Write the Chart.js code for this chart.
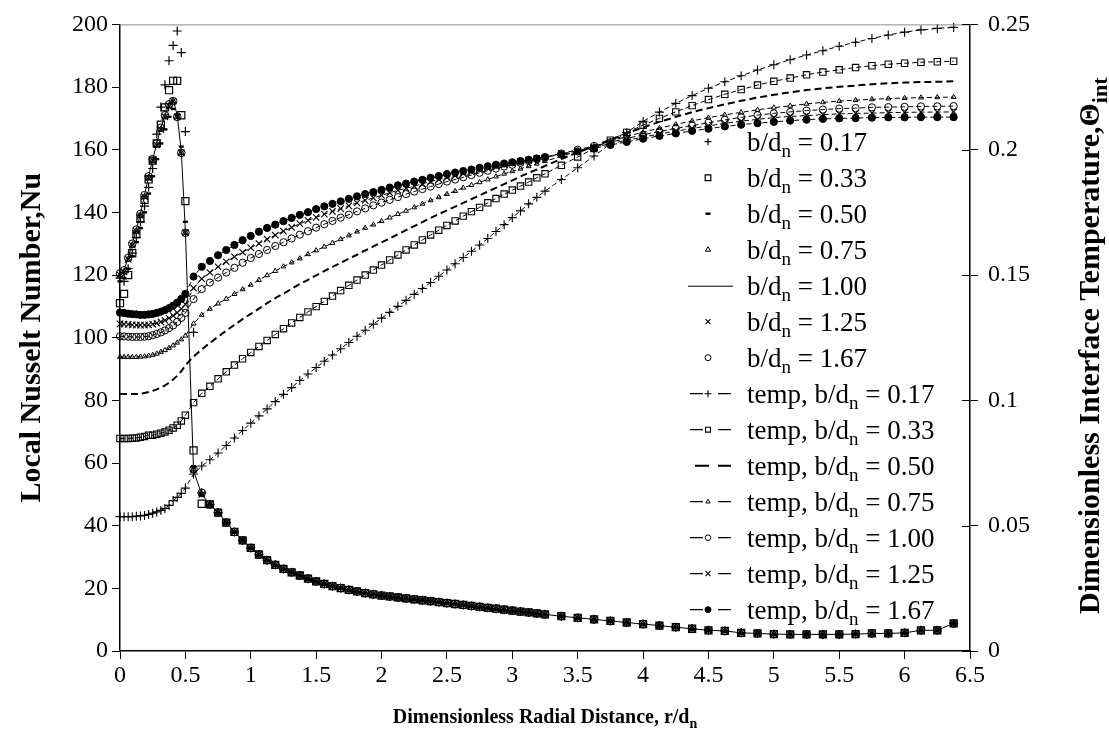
<!DOCTYPE html>
<html>
<head>
<meta charset="utf-8">
<script src="https://cdn.jsdelivr.net/npm/chart.js@4.4.1/dist/chart.umd.min.js"></script>
<style>
html,body{margin:0;padding:0;background:#fff;overflow:hidden}
#box{position:relative;width:1109px;height:746px}
</style>
</head>
<body>
<div id="box"><canvas id="chart" width="1109" height="746"></canvas></div>
<script>
// Radial stations r/dn shared by every series
const radial = [0,0.03125,0.0625,0.09375,0.125,0.15625,0.1875,0.21875,0.25,0.28125,0.3125,0.34375,0.375,0.40625,0.4375,0.46875,0.5,
  0.5625,0.625,0.6875,0.75,0.8125,0.875,0.9375,1,1.0625,1.125,1.1875,1.25,1.3125,1.375,1.4375,1.5,1.5625,1.625,1.6875,1.75,1.8125,1.875,1.9375,2,
  2.0625,2.125,2.1875,2.25,2.3125,2.375,2.4375,2.5,2.5625,2.625,2.6875,2.75,2.8125,2.875,2.9375,3,3.0625,3.125,3.1875,3.25,
  3.375,3.5,3.625,3.75,3.875,4,4.125,4.25,4.375,4.5,4.625,4.75,4.875,5,5.125,5.25,5.375,5.5,5.625,5.75,5.875,6,6.125,6.25,6.375];

// Local Nusselt number: stagnation region (r/dn <= 0.625) for each b/dn
const nuHead017 = [119,118,122,127,132,137,142,148,154,165,173.6,180.7,188.4,193.3,197.9,191,165.8,101.7,50.5];
const nuHead033 = [111,114,120,127,133,138,144,150.5,156.5,162,168,173.5,179,182,182,171,143.6,64,47];
const nuHead050 = [118,119,122,126,130.5,135,140,146,151.5,157,162,166.5,170.5,173,171,161,137,59,50];
const nuHead075 = [120,121,125,129.5,134,139,145,151,156.5,161.5,166.5,170.5,174,175.5,170.5,159,133.5,58,50];
const nuHead100 = [120.5,121.5,125.5,130,134.5,139.5,145.5,151.5,157,162,167,171,174.5,176,171,159.5,134,57.5,50];
const nuHead125 = [120,121,125,129.5,134,139,145,151,156.5,161.5,166.5,170.5,174,175.5,170.5,159,133.5,58,50];
const nuHead167 = [120.5,121.5,125.5,130,134.5,139.5,145.5,151.5,157,162,167,171,174.5,175.5,170.5,159,133.5,58,50.5];
// Local Nusselt number beyond r/dn = 0.625 (common to all b/dn)
const nuTail = [46.8,44.2,41.0,38.0,35.3,32.9,30.8,29.0,27.5,26.2,25.1,24.1,23.1,22.2,21.4,20.7,20.1,19.5,19.0,18.5,18.1,17.7,
  17.4,17.1,16.8,16.5,16.2,15.9,15.6,15.3,15.0,14.7,14.4,14.1,13.8,13.5,13.2,12.9,12.6,12.3,12.0,11.7,
  11.1,10.6,10.1,9.6,9.1,8.6,8.1,7.6,7.1,6.6,6.4,5.8,5.6,5.4,5.3,5.3,5.3,5.3,5.4,5.6,5.6,5.8,6.6,6.6,8.8];

// Dimensionless interface temperature for each b/dn
const tempB017 = [0.0536,0.0536,0.0536,0.0536,0.0538,0.0539,0.0541,0.0545,0.0550,0.0555,0.0561,0.0569,0.0581,0.0600,0.0613,0.0629,0.0650,0.0706,0.0738,0.0763,0.0790,0.0820,0.0850,0.0880,0.0909,0.0938,0.0966,0.0995,0.1024,0.1051,0.1079,0.1105,0.1131,0.1156,0.1181,0.1206,0.1231,0.1256,0.1280,0.1304,0.1328,0.1351,0.1375,0.1399,0.1423,0.1446,0.1470,0.1495,0.1520,0.1545,0.1570,0.1595,0.1620,0.1646,0.1674,0.1701,0.1729,0.1756,0.1784,0.1810,0.1835,0.1881,0.1928,0.1975,0.2023,0.2069,0.2113,0.2150,0.2185,0.2216,0.2245,0.2271,0.2295,0.2318,0.2339,0.2359,0.2378,0.2395,0.2413,0.2429,0.2444,0.2458,0.2469,0.2478,0.2484,0.2488];
const tempB033 = [0.0848,0.0848,0.0848,0.0849,0.0850,0.0853,0.0856,0.0861,0.0861,0.0865,0.0869,0.0874,0.0881,0.0890,0.0901,0.0918,0.0941,0.0991,0.1028,0.1056,0.1086,0.1114,0.1141,0.1166,0.1191,0.1215,0.1239,0.1263,0.1286,0.1309,0.1331,0.1353,0.1374,0.1395,0.1416,0.1438,0.1459,0.1480,0.1500,0.1520,0.1540,0.1560,0.1580,0.1600,0.1620,0.1640,0.1660,0.1679,0.1698,0.1716,0.1735,0.1753,0.1770,0.1788,0.1805,0.1823,0.1839,0.1855,0.1871,0.1888,0.1904,0.1938,0.1971,0.2005,0.2038,0.2069,0.2098,0.2125,0.2151,0.2176,0.2200,0.2221,0.2240,0.2258,0.2273,0.2286,0.2299,0.2310,0.2319,0.2328,0.2335,0.2341,0.2345,0.2349,0.2351,0.2353];
const tempB050 = [0.1025,0.1025,0.1025,0.1025,0.1025,0.1026,0.1029,0.1033,0.1038,0.1044,0.1051,0.1060,0.1070,0.1083,0.1098,0.1116,0.1140,0.1175,0.1203,0.1229,0.1254,0.1278,0.1301,0.1324,0.1345,0.1366,0.1388,0.1408,0.1426,0.1445,0.1464,0.1481,0.1499,0.1516,0.1533,0.1549,0.1565,0.1581,0.1598,0.1614,0.1630,0.1646,0.1663,0.1679,0.1695,0.1711,0.1728,0.1743,0.1758,0.1773,0.1788,0.1803,0.1818,0.1833,0.1848,0.1863,0.1878,0.1893,0.1908,0.1921,0.1935,0.1963,0.1989,0.2015,0.2040,0.2065,0.2089,0.2111,0.2131,0.2150,0.2166,0.2181,0.2195,0.2208,0.2219,0.2229,0.2238,0.2245,0.2251,0.2256,0.2261,0.2265,0.2268,0.2270,0.2271,0.2273];
const tempB075 = [0.1173,0.1173,0.1173,0.1173,0.1173,0.1174,0.1175,0.1178,0.1181,0.1186,0.1193,0.1200,0.1209,0.1219,0.1230,0.1243,0.1258,0.1306,0.1341,0.1365,0.1386,0.1405,0.1424,0.1443,0.1461,0.1480,0.1499,0.1516,0.1534,0.1550,0.1566,0.1583,0.1598,0.1613,0.1628,0.1643,0.1658,0.1673,0.1688,0.1701,0.1715,0.1729,0.1743,0.1756,0.1770,0.1784,0.1798,0.1810,0.1823,0.1835,0.1848,0.1859,0.1870,0.1881,0.1893,0.1904,0.1914,0.1924,0.1934,0.1944,0.1954,0.1974,0.1994,0.2014,0.2034,0.2053,0.2070,0.2086,0.2101,0.2115,0.2128,0.2139,0.2149,0.2159,0.2168,0.2175,0.2183,0.2189,0.2194,0.2198,0.2201,0.2204,0.2206,0.2208,0.2209,0.2210];
const tempB100 = [0.1256,0.1255,0.1254,0.1253,0.1253,0.1253,0.1254,0.1256,0.1260,0.1265,0.1271,0.1279,0.1288,0.1299,0.1313,0.1329,0.1349,0.1404,0.1444,0.1470,0.1490,0.1510,0.1529,0.1549,0.1568,0.1584,0.1600,0.1616,0.1631,0.1646,0.1661,0.1675,0.1689,0.1703,0.1716,0.1729,0.1741,0.1754,0.1766,0.1778,0.1789,0.1800,0.1811,0.1823,0.1833,0.1843,0.1853,0.1863,0.1873,0.1881,0.1890,0.1899,0.1908,0.1916,0.1925,0.1933,0.1940,0.1948,0.1955,0.1963,0.1970,0.1985,0.2000,0.2015,0.2030,0.2045,0.2059,0.2073,0.2085,0.2096,0.2108,0.2119,0.2129,0.2138,0.2145,0.2151,0.2156,0.2160,0.2164,0.2166,0.2169,0.2170,0.2171,0.2173,0.2173,0.2174];
const tempB125 = [0.1305,0.1304,0.1303,0.1301,0.1300,0.1300,0.1300,0.1301,0.1304,0.1308,0.1313,0.1319,0.1328,0.1338,0.1350,0.1365,0.1383,0.1448,0.1485,0.1510,0.1533,0.1553,0.1573,0.1591,0.1609,0.1626,0.1643,0.1659,0.1675,0.1690,0.1705,0.1718,0.1730,0.1743,0.1754,0.1765,0.1776,0.1788,0.1798,0.1808,0.1818,0.1828,0.1838,0.1846,0.1855,0.1864,0.1873,0.1881,0.1889,0.1896,0.1904,0.1911,0.1919,0.1926,0.1934,0.1940,0.1946,0.1953,0.1959,0.1965,0.1971,0.1984,0.1996,0.2010,0.2024,0.2038,0.2050,0.2063,0.2074,0.2085,0.2095,0.2105,0.2114,0.2121,0.2128,0.2133,0.2136,0.2140,0.2143,0.2145,0.2146,0.2148,0.2149,0.2150,0.2150,0.2151];
const tempB167 = [0.1350,0.1349,0.1346,0.1344,0.1343,0.1341,0.1341,0.1343,0.1345,0.1349,0.1354,0.1360,0.1368,0.1378,0.1390,0.1405,0.1425,0.1494,0.1533,0.1556,0.1579,0.1600,0.1620,0.1639,0.1656,0.1673,0.1688,0.1701,0.1715,0.1728,0.1740,0.1751,0.1763,0.1774,0.1784,0.1794,0.1804,0.1814,0.1823,0.1831,0.1840,0.1849,0.1858,0.1865,0.1873,0.1880,0.1888,0.1895,0.1903,0.1909,0.1915,0.1921,0.1928,0.1934,0.1940,0.1945,0.1950,0.1955,0.1960,0.1965,0.1970,0.1981,0.1993,0.2005,0.2019,0.2031,0.2044,0.2055,0.2065,0.2075,0.2084,0.2093,0.2100,0.2106,0.2111,0.2116,0.2120,0.2123,0.2125,0.2126,0.2128,0.2129,0.2129,0.2130,0.2130,0.2130];

const ratios = ['0.17','0.33','0.50','0.75','1.00','1.25','1.67'];

const SERIF = '"Liberation Serif", "Times New Roman", serif';
const TICK_PX = 24;
const LEGEND_PX = 27;
const XTITLE_PX = 20;
const YTITLE_PX = 30;

const pts = ys => radial.map((x, i) => ({ x, y: ys[i] }));
const nuPts = head => pts(head.concat(nuTail));

// marker appearance: [pointStyle, radius, borderWidth, filled, legendRadius]
const nuMarks = [
  ['cross', 4.5, 1.2, false, 3.5],
  ['rect', 5, 1.2, false, 4],
  ['line', 2.5, 2.4, false, 2.5],
  ['triangle', 3.5, 1, false, 3],
  [null, 0, 0, false, 0],
  ['crossRot', 4.5, 1.1, false, 3.5],
  ['circle', 3.8, 1, false, 3]
];
const tempMarks = [
  ['cross', 4.5, 1.1, false, 3.5],
  ['rect', 4.5, 1.1, false, 3.5],
  [null, 0, 0, false, 0],
  ['triangle', 2.8, 1, false, 2.5],
  ['circle', 3.6, 1, false, 2.8],
  ['crossRot', 4.5, 1.1, false, 3.5],
  ['circle', 3.6, 1, true, 3]
];

const nuHeads = [nuHead017, nuHead033, nuHead050, nuHead075, nuHead100, nuHead125, nuHead167];
const temps = [tempB017, tempB033, tempB050, tempB075, tempB100, tempB125, tempB167];

const datasets = [];
ratios.forEach((b, i) => {
  const [ps, r, bw, filled] = nuMarks[i];
  const isLine = ps === null;
  datasets.push({
    label: 'b/dn = ' + b, kind: 'nu', mark: nuMarks[i],
    data: nuPts(nuHeads[i]), yAxisID: 'y',
    showLine: isLine, borderColor: '#000', borderWidth: isLine ? 1 : 0,
    pointStyle: ps || 'circle', pointRadius: r, pointBorderWidth: bw,
    pointBorderColor: '#000', pointBackgroundColor: filled ? '#000' : 'rgba(0,0,0,0)',
    clip: false
  });
});
ratios.forEach((b, i) => {
  const [ps, r, bw, filled] = tempMarks[i];
  datasets.push({
    label: 'temp, b/dn = ' + b, kind: 'temp', mark: tempMarks[i],
    data: pts(temps[i]), yAxisID: 'y1',
    showLine: true, borderColor: '#000',
    borderWidth: ps === null ? 2 : 1, borderDash: ps === null ? [7, 4] : [5, 3],
    pointStyle: ps || 'circle', pointRadius: r, pointBorderWidth: bw,
    pointBorderColor: '#000', pointBackgroundColor: filled ? '#000' : 'rgba(0,0,0,0)',
    clip: false
  });
});

function drawMark(ctx, style, r, x, y, filled, bw) {
  if (!style || r <= 0) return;
  ctx.save();
  ctx.lineWidth = bw; ctx.strokeStyle = '#000'; ctx.fillStyle = '#000';
  ctx.setLineDash([]);
  ctx.beginPath();
  if (style === 'cross') { ctx.moveTo(x - r, y); ctx.lineTo(x + r, y); ctx.moveTo(x, y - r); ctx.lineTo(x, y + r); }
  else if (style === 'crossRot') { const d = r * Math.SQRT1_2; ctx.moveTo(x - d, y - d); ctx.lineTo(x + d, y + d); ctx.moveTo(x - d, y + d); ctx.lineTo(x + d, y - d); }
  else if (style === 'rect') { const s = r * Math.SQRT1_2; ctx.rect(x - s, y - s, 2 * s, 2 * s); }
  else if (style === 'line') { ctx.moveTo(x - r, y); ctx.lineTo(x + r, y); }
  else if (style === 'triangle') { ctx.moveTo(x, y - r); ctx.lineTo(x + r * 0.87, y + r * 0.5); ctx.lineTo(x - r * 0.87, y + r * 0.5); ctx.closePath(); }
  else if (style === 'circle') { ctx.arc(x, y, r, 0, Math.PI * 2); }
  if (filled) ctx.fill();
  ctx.stroke();
  ctx.restore();
}

// Text runs made of [text, subscript?] pieces
function runWidth(ctx, parts, size, bold) {
  let w = 0;
  for (const [t, sub] of parts) {
    ctx.font = (bold ? 'bold ' : '') + (sub ? Math.round(size * 0.72) : size) + 'px ' + SERIF;
    w += ctx.measureText(t).width;
  }
  return w;
}
function drawRun(ctx, parts, x, y, size, bold) {
  let cx = x;
  for (const [t, sub] of parts) {
    ctx.font = (bold ? 'bold ' : '') + (sub ? Math.round(size * 0.72) : size) + 'px ' + SERIF;
    ctx.fillText(t, cx, sub ? y + size * 0.25 : y);
    cx += ctx.measureText(t).width;
  }
}

const decor = {
  id: 'decor',
  afterDraw(chart) {
    const { ctx, chartArea: a, scales } = chart;
    ctx.save();
    // top frame
    ctx.strokeStyle = '#8a8a8a'; ctx.lineWidth = 1;
    ctx.beginPath(); ctx.moveTo(a.left, a.top + 0.5); ctx.lineTo(a.right, a.top + 0.5); ctx.stroke();
    // right-axis ticks cross the axis line
    ctx.strokeStyle = '#000'; ctx.lineWidth = 1;
    scales.y1.ticks.forEach(t => {
      const y = Math.round(scales.y1.getPixelForValue(t.value)) + 0.5;
      ctx.beginPath(); ctx.moveTo(a.right - 8, y); ctx.lineTo(a.right, y); ctx.stroke();
    });

    // legend
    ctx.fillStyle = '#000'; ctx.textBaseline = 'alphabetic'; ctx.textAlign = 'left';
    const mx = 708, tx = 747, top = 141.7, step = 36.0;
    chart.data.datasets.forEach((ds, i) => {
      const cy = top + step * i;
      const [ps, , bw, filled, lr] = ds.mark;
      ctx.save();
      ctx.strokeStyle = '#000';
      if (ds.kind === 'nu' && ps === null) {
        ctx.lineWidth = 1; ctx.beginPath(); ctx.moveTo(688, cy + 0.5); ctx.lineTo(733, cy + 0.5); ctx.stroke();
      }
      if (ds.kind === 'temp') {
        ctx.lineWidth = ps === null ? 2 : 1.3;
        ctx.beginPath();
        ctx.moveTo(ps === null ? 695 : 690, cy); ctx.lineTo(ps === null ? 709 : 703, cy);
        ctx.moveTo(718, cy); ctx.lineTo(731, cy);
        ctx.stroke();
      }
      ctx.restore();
      drawMark(ctx, ps, lr, mx, cy, filled, bw);
      const b = ds.label.split('= ')[1];
      const lead = ds.kind === 'temp' ? 'temp, b/d' : 'b/d';
      drawRun(ctx, [[lead, false], ['n', true], [' = ' + b, false]], tx, cy + 9, LEGEND_PX, false);
    });

    // axis titles
    const bottomParts = [['Dimensionless Radial Distance, r/d', false], ['n', true]];
    const bw2 = runWidth(ctx, bottomParts, XTITLE_PX, true);
    drawRun(ctx, bottomParts, (a.left + a.right) / 2 - bw2 / 2, 723, XTITLE_PX, true);

    const midY = (a.top + a.bottom) / 2;
    const leftParts = [['Local Nusselt Number,Nu', false]];
    const lw = runWidth(ctx, leftParts, YTITLE_PX, true);
    ctx.save();
    ctx.translate(40, midY);
    ctx.rotate(-Math.PI / 2);
    drawRun(ctx, leftParts, -lw / 2, 0, YTITLE_PX, true);
    ctx.restore();

    const rightParts = [['Dimensionless Interface Temperature,\u0398', false], ['int', true]];
    const rw = runWidth(ctx, rightParts, YTITLE_PX, true);
    ctx.save();
    ctx.translate(1099, midY + 8);
    ctx.rotate(-Math.PI / 2);
    drawRun(ctx, rightParts, -rw / 2, 0, YTITLE_PX, true);
    ctx.restore();

    ctx.restore();
  }
};

const tickFont = { family: SERIF, size: TICK_PX };
const axisGrid = { drawOnChartArea: false, drawTicks: true, tickLength: 8, color: '#000', lineWidth: 1 };
const axisBorder = { display: true, color: '#000', width: 1.5 };
const fmt = v => String(+Number(v).toFixed(2));

new Chart(document.getElementById('chart'), {
  type: 'scatter',
  data: { datasets },
  options: {
    responsive: false, animation: false, events: [],
    layout: { padding: { top: 20, left: 0, right: 0, bottom: 0 } },
    plugins: { legend: { display: false }, tooltip: { enabled: false } },
    scales: {
      x: {
        type: 'linear', min: 0, max: 6.5,
        ticks: { stepSize: 0.5, color: '#000', font: tickFont, padding: 2, maxRotation: 0, autoSkip: false, callback: fmt },
        grid: axisGrid, border: axisBorder,
        afterFit: s => { s.height = 95; }
      },
      y: {
        type: 'linear', position: 'left', min: 0, max: 200,
        ticks: { stepSize: 20, color: '#000', font: tickFont, padding: 4, callback: fmt },
        grid: axisGrid, border: axisBorder,
        afterFit: s => { s.width = 120; }
      },
      y1: {
        type: 'linear', position: 'right', min: 0, max: 0.25,
        ticks: { stepSize: 0.05, color: '#000', font: tickFont, padding: 10, callback: fmt },
        grid: axisGrid, border: axisBorder,
        afterFit: s => { s.width = 139; }
      }
    }
  },
  plugins: [decor]
});
</script>
</body>
</html>
